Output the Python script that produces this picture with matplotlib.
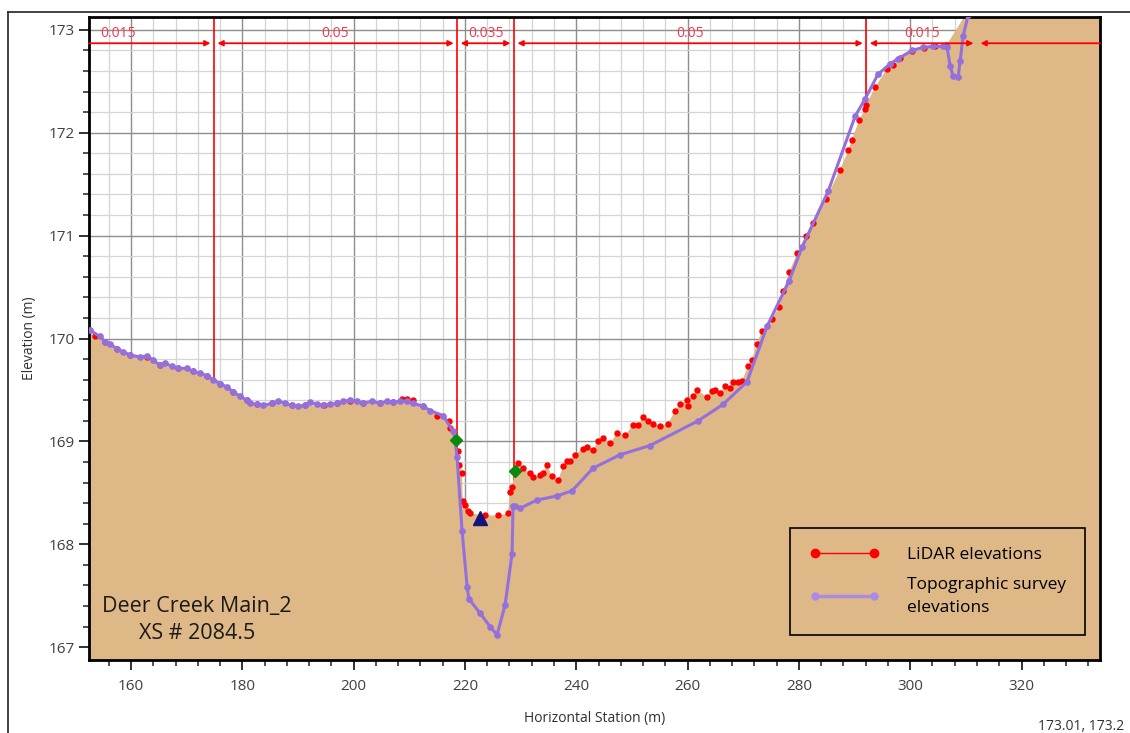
import matplotlib
matplotlib.use("Agg")
import matplotlib.pyplot as plt
from matplotlib.lines import Line2D
from matplotlib.ticker import MultipleLocator

plt.rcParams["font.family"] = ["Open Sans", "DejaVu Sans"]

# topographic survey points (station m, elevation m)
survey_station = [
    152.63, 154.43, 155.33, 156.23, 157.43, 158.62, 159.82, 161.62, 162.82, 164.01,
    165.21, 166.11, 167.31, 168.50, 170.01, 171.20, 172.40, 173.60, 174.79, 175.99,
    177.20, 178.38, 179.59, 180.79, 181.38, 182.59, 183.77, 185.28, 186.47, 187.67,
    188.88, 190.06, 191.27, 192.17, 193.37, 194.56, 195.76, 196.96, 198.15, 199.35,
    200.56, 201.74, 203.25, 204.74, 205.95, 207.13, 208.34, 209.54, 210.73, 212.53,
    213.73, 216.07, 217.86, 218.22, 218.58, 219.48, 220.40, 220.70, 222.71, 224.51,
    225.77, 227.21, 228.46, 228.64, 229.00, 229.90, 232.96, 236.55, 239.25, 243.02,
    247.87, 253.26, 261.89, 266.38, 270.69, 274.29, 278.24, 280.58, 285.25, 290.10,
    291.90, 294.23, 296.39, 297.83, 300.34, 302.32, 304.12, 305.91, 306.63, 307.17,
    307.71, 308.61, 308.97, 309.51, 310.40, 311.20,
]
survey_elev = [
    170.08, 170.02, 169.97, 169.95, 169.90, 169.87, 169.84, 169.82, 169.83, 169.79,
    169.74, 169.76, 169.73, 169.71, 169.71, 169.68, 169.66, 169.64, 169.60, 169.56,
    169.53, 169.48, 169.44, 169.40, 169.37, 169.36, 169.35, 169.37, 169.39, 169.37,
    169.35, 169.34, 169.35, 169.38, 169.36, 169.35, 169.36, 169.37, 169.39, 169.40,
    169.39, 169.37, 169.39, 169.37, 169.39, 169.38, 169.39, 169.39, 169.37, 169.34,
    169.30, 169.25, 169.10, 169.01, 168.85, 168.13, 167.58, 167.47, 167.33, 167.20,
    167.12, 167.41, 167.91, 168.37, 168.37, 168.35, 168.43, 168.47, 168.52, 168.74,
    168.87, 168.96, 169.20, 169.36, 169.58, 170.12, 170.56, 170.89, 171.43, 172.16,
    172.33, 172.57, 172.67, 172.72, 172.80, 172.83, 172.84, 172.84, 172.83, 172.65,
    172.55, 172.54, 172.70, 172.94, 173.14, 173.40,
]

# LiDAR ground points (station m, elevation m)
lidar_station = [
    152.0, 153.5, 155.3, 157.4, 159.8, 162.8, 165.2, 168.5, 171.2, 173.6,
    176.0, 178.4, 180.8, 182.6, 185.3, 188.9, 191.3, 194.6, 197.0, 199.4,
    201.7, 204.7, 207.1, 208.6, 209.6, 210.6, 212.5, 214.99, 217.14, 217.32,
    218.76, 218.94, 219.48, 219.60, 220.02, 220.56, 220.92, 223.61, 225.95, 227.74,
    228.10, 228.46, 229.00, 229.54, 230.44, 231.70, 232.24, 233.50, 234.04, 234.75,
    235.65, 236.73, 237.63, 238.35, 238.89, 239.79, 241.22, 241.94, 243.02, 243.92,
    244.82, 246.08, 247.33, 248.77, 250.21, 251.11, 252.00, 252.90, 253.80, 255.06,
    256.50, 257.75, 258.65, 259.91, 260.09, 260.99, 261.71, 263.50, 264.40, 264.94,
    265.84, 266.74, 267.65, 268.18, 269.08, 269.80, 270.87, 271.54, 272.44, 273.33,
    275.13, 276.50, 277.16, 278.29, 279.73, 281.24, 282.50, 284.89, 287.40, 288.89,
    289.50, 290.82, 291.90, 292.08, 293.66, 295.80, 296.98, 298.18, 300.3, 302.5,
    304.5, 306.5, 310.1, 312.0, 320.0, 334.0, 345.0,
]
lidar_elev = [
    170.08, 170.02, 169.97, 169.90, 169.84, 169.82, 169.74, 169.71, 169.68, 169.64,
    169.56, 169.48, 169.40, 169.36, 169.37, 169.35, 169.35, 169.35, 169.37, 169.39,
    169.37, 169.37, 169.38, 169.41, 169.41, 169.40, 169.34, 169.25, 169.20, 169.13,
    168.91, 168.77, 168.69, 168.42, 168.38, 168.32, 168.30, 168.28, 168.28, 168.30,
    168.51, 168.56, 168.71, 168.79, 168.74, 168.69, 168.65, 168.67, 168.69, 168.77,
    168.66, 168.62, 168.76, 168.81, 168.81, 168.87, 168.93, 168.95, 168.92, 169.00,
    169.03, 168.98, 169.08, 169.06, 169.16, 169.16, 169.24, 169.20, 169.17, 169.15,
    169.17, 169.30, 169.36, 169.40, 169.34, 169.44, 169.50, 169.43, 169.49, 169.50,
    169.47, 169.54, 169.52, 169.58, 169.58, 169.59, 169.73, 169.79, 169.95, 170.07,
    170.19, 170.31, 170.46, 170.65, 170.83, 171.00, 171.12, 171.36, 171.64, 171.83,
    171.93, 172.12, 172.23, 172.27, 172.44, 172.62, 172.66, 172.73, 172.79, 172.82,
    172.84, 172.85, 173.16, 173.55, 174.10, 174.60, 174.80,
]

bank_station = [218.4, 229.0]
bank_elev = [169.01, 168.71]
thalweg_station = [222.7]
thalweg_elev = [168.26]

# Manning's n break stations and values
n_breaks = [140.5, 174.9, 218.6, 228.8, 292.1, 312.0, 345.0]
n_values = ["0.015", "0.05", "0.035", "0.05", "0.015"]
n_line_elev = 172.87

x0, x1 = 152.45, 334.1
y0, y1 = 166.875, 173.13

fig = plt.figure(figsize=(11.3, 7.33), dpi=100)
ax = fig.add_axes([89 / 1130, 1 - 660 / 733, 1011 / 1130, 643.5 / 733])

ax.set_xlim(x0, x1)
ax.set_ylim(y0, y1)
ax.xaxis.set_major_locator(MultipleLocator(20))
ax.xaxis.set_minor_locator(MultipleLocator(4))
ax.yaxis.set_major_locator(MultipleLocator(1))
ax.yaxis.set_minor_locator(MultipleLocator(0.2))
ax.set_axisbelow(True)
ax.grid(which="major", color="#8e8e8e", lw=1.0)
ax.grid(which="minor", color="#d4d4d4", lw=0.9)

# n-value break lines (hidden below the ground fill)
for b in n_breaks[1:-1]:
    ax.axvline(b, color="red", lw=1.2, zorder=0.9)

# ground
ax.fill_between(lidar_station, lidar_elev, y0 - 5, color="#dfb887", lw=0, zorder=1)

ax.plot(lidar_station, lidar_elev, ls="none", marker="o", ms=3.6,
        color="red", zorder=3)
ax.plot(survey_station, survey_elev, color="#9370db", lw=2.2, marker="o",
        ms=3.8, zorder=4)
ax.plot(bank_station, bank_elev, ls="none", marker="D", ms=6.5,
        color="#0a8a0a", zorder=5)
ax.plot(thalweg_station, thalweg_elev, ls="none", marker="^", ms=10,
        color="#14147a", zorder=5)

# n-value arrows
styles = {(True, True): "<|-|>", (False, True): "-|>",
          (True, False): "<|-", (False, False): "-"}
for i in range(len(n_breaks) - 1):
    a, b = n_breaks[i], n_breaks[i + 1]
    left_in, right_in = a >= x0, b <= x1
    ax.annotate("", xy=(min(b, x1), n_line_elev), xytext=(max(a, x0), n_line_elev),
                arrowprops=dict(arrowstyle=styles[(left_in, right_in)], color="red",
                                lw=1.3, mutation_scale=8,
                                shrinkA=2.5 if left_in else 0,
                                shrinkB=2.5 if right_in else 0),
                annotation_clip=False, zorder=6)
    if i < len(n_values):
        ax.text((a + b) / 2, n_line_elev + 0.025, n_values[i], ha="center",
                va="bottom", color="#ee3a4c", fontsize=10, zorder=6)

ax.text(0.107, 0.062, "Deer Creek Main_2\nXS # 2084.5", transform=ax.transAxes,
        ha="center", va="center", fontsize=15.5, color="#1a1a1a", linespacing=1.35,
        zorder=7)

h_lidar = Line2D([], [], color="red", lw=1, marker="o", ms=6)
h_survey = Line2D([], [], color="#a98be6", lw=2.5, marker="o", ms=5)
leg = ax.legend([h_lidar, h_survey],
                ["LiDAR elevations", "Topographic survey\nelevations"],
                loc="lower right", bbox_to_anchor=(0.985, 0.039), borderaxespad=0,
                numpoints=2, handlelength=4.0, handletextpad=1.6, borderpad=1.1,
                labelspacing=0.8, fontsize=12.5, fancybox=False, framealpha=1)
leg.get_texts()[1].set_linespacing(1.55)
leg.get_frame().set_facecolor("none")
leg.get_frame().set_edgecolor("black")
leg.get_frame().set_linewidth(1.2)
leg.set_zorder(8)

for s in ax.spines.values():
    s.set_linewidth(2)
    s.set_color("black")
ax.tick_params(which="major", length=7, width=1.3, color="#222222",
               labelsize=11, labelcolor="#404040")
ax.tick_params(axis="x", which="major", pad=7)
ax.tick_params(which="minor", length=4, width=1.1, color="#222222")
ax.set_xlabel("Horizontal Station (m)", fontsize=10, color="#303030", labelpad=12)
ax.set_ylabel("Elevation (m)", fontsize=10, color="#303030", labelpad=8)

# outer frame and cursor readout
fig.add_artist(Line2D([8 / 1130, 1], [1 - 12 / 733] * 2, color="#222222", lw=1.2))
fig.add_artist(Line2D([8 / 1130] * 2, [0, 1 - 12 / 733], color="#222222", lw=1.2))
fig.text(1038 / 1130, 1 - 726 / 733, "173.01, 173.2", fontsize=10, color="#303030",
         va="center")

fig.savefig("out.png", dpi=100)
